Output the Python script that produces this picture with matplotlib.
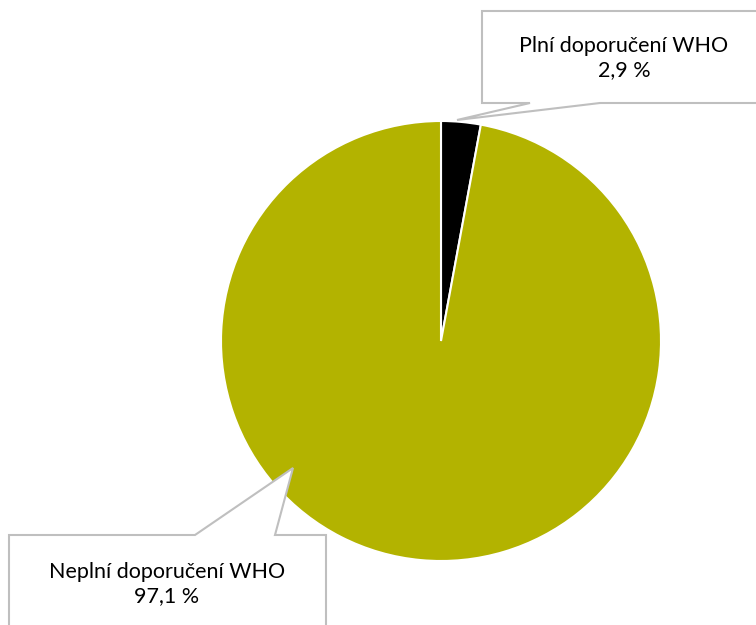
import matplotlib
matplotlib.use("Agg")
import matplotlib.pyplot as plt
from matplotlib.patches import Polygon

labels = ["Plní doporučení WHO", "Neplní doporučení WHO"]
values = [2.9, 97.1]
colors = ["#000000", "#B3B300"]

W, H = 756, 625
fig = plt.figure(figsize=(W / 100, H / 100), dpi=100)
ax = fig.add_axes([0, 0, 1, 1])
ax.set_xlim(0, W)
ax.set_ylim(0, H)
ax.axis("off")

def py(y):
    return H - y

ax.pie(values, colors=colors, startangle=90, counterclock=False,
       center=(441, py(341)), radius=220, frame=True,
       wedgeprops=dict(edgecolor="white", linewidth=1.5))
ax.set_xlim(0, W)
ax.set_ylim(0, H)
ax.axis("off")

edge = "#BFBFBF"
top_box = [(482, 11), (762, 11), (762, 103), (600, 103), (457, 120), (530, 103), (482, 103)]
bot_box = [(9, 535), (195, 535), (293, 468), (275, 535), (326, 535), (326, 632), (9, 632)]
for pts in (top_box, bot_box):
    ax.add_patch(Polygon([(x, py(y)) for x, y in pts], closed=True,
                         facecolor="white", edgecolor=edge, linewidth=1.5, zorder=5))

font = ["Lato", "DejaVu Sans"]
ax.text(624, py(58), f"{labels[0]}\n{str(values[0]).replace('.', ',')} %",
        ha="center", va="center", fontsize=15.5, family=font, linespacing=1.3, zorder=6)
ax.text(167, py(584), f"{labels[1]}\n{str(values[1]).replace('.', ',')} %",
        ha="center", va="center", fontsize=15.5, family=font, linespacing=1.3, zorder=6)

fig.savefig("out.png", dpi=100)
